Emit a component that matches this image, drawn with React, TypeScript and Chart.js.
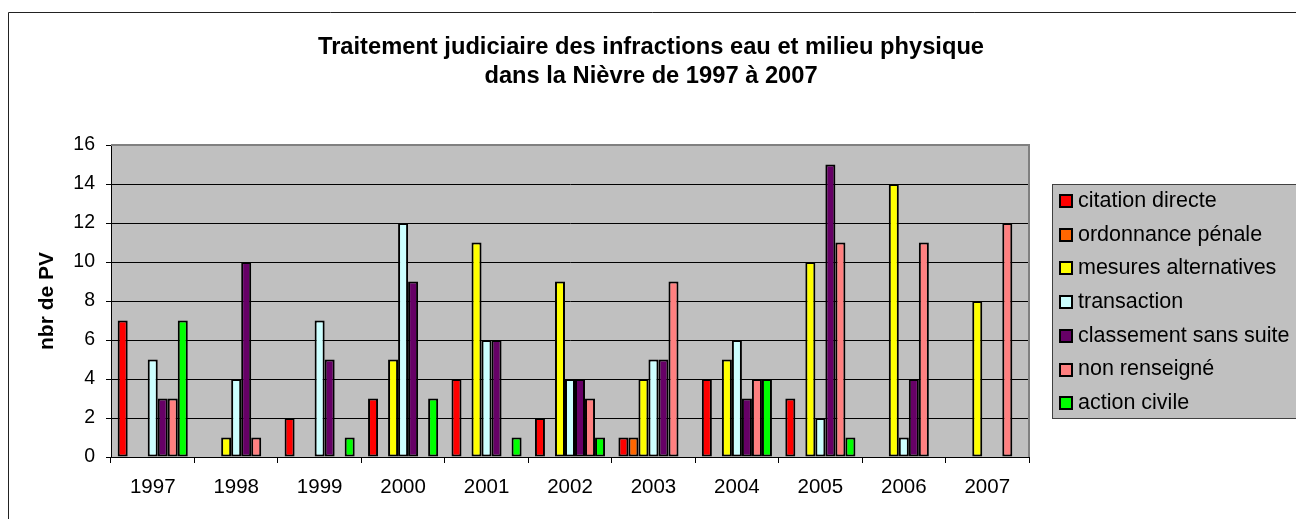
import React, { useEffect, useRef } from "react";
import { Chart, registerables } from "chart.js";

Chart.register(...registerables);

const years = ["1997", "1998", "1999", "2000", "2001", "2002", "2003", "2004", "2005", "2006", "2007"];
const seriesNames = [
  "citation directe",
  "ordonnance pénale",
  "mesures alternatives",
  "transaction",
  "classement sans suite",
  "non renseigné",
  "action civile",
];
const seriesColors = ["#FF0000", "#FF6600", "#FFFF00", "#CCFFFF", "#660066", "#FF8080", "#00FF00"];

const citationDirecte = [7, 0, 2, 3, 4, 2, 1, 4, 3, 0, 0];
const ordonnancePenale = [0, 0, 0, 0, 0, 0, 1, 0, 0, 0, 0];
const mesuresAlternatives = [0, 1, 0, 5, 11, 9, 4, 5, 10, 14, 8];
const transaction = [5, 4, 7, 12, 6, 4, 5, 6, 2, 1, 0];
const classementSansSuite = [3, 10, 5, 9, 6, 4, 5, 3, 15, 4, 0];
const nonRenseigne = [3, 1, 0, 0, 0, 3, 9, 4, 11, 11, 12];
const actionCivile = [7, 0, 1, 3, 1, 1, 0, 4, 1, 0, 0];

const yTicks = [0, 2, 4, 6, 8, 10, 12, 14, 16];
const titleLines = ["Traitement judiciaire des infractions eau et milieu physique", "dans la Nièvre de 1997 à 2007"];
const yAxisTitle = "nbr de PV";

const FONT = "'Liberation Sans', Arial, sans-serif";

export default function App() {
  const ref = useRef<HTMLCanvasElement | null>(null);

  useEffect(() => {
    const canvas = ref.current;
    if (!canvas) return;
    const allSeries = [
      citationDirecte,
      ordonnancePenale,
      mesuresAlternatives,
      transaction,
      classementSansSuite,
      nonRenseigne,
      actionCivile,
    ];

    const decorPlugin = {
      id: "decor",
      beforeDraw(chart: any) {
        const { ctx, chartArea } = chart;
        ctx.save();
        ctx.fillStyle = "#FFFFFF";
        ctx.fillRect(0, 0, chart.width, chart.height);
        // outer frame
        ctx.strokeStyle = "#222222";
        ctx.lineWidth = 1;
        ctx.beginPath();
        ctx.moveTo(8.5, chart.height + 2);
        ctx.lineTo(8.5, 12.5);
        ctx.lineTo(chart.width + 2, 12.5);
        ctx.stroke();
        // plot background
        ctx.fillStyle = "#C0C0C0";
        ctx.fillRect(chartArea.left, chartArea.top, chartArea.right - chartArea.left, chartArea.bottom - chartArea.top);
        ctx.restore();
      },
      beforeDatasetsDraw(chart: any) {
        const { ctx, chartArea } = chart;
        ctx.save();
        ctx.strokeStyle = "#808080";
        ctx.lineWidth = 2;
        ctx.beginPath();
        ctx.moveTo(chartArea.left, chartArea.top);
        ctx.lineTo(chartArea.right, chartArea.top);
        ctx.lineTo(chartArea.right, chartArea.bottom);
        ctx.stroke();
        ctx.restore();
      },
      afterDraw(chart: any) {
        const { ctx } = chart;
        ctx.save();
        // title
        ctx.fillStyle = "#000000";
        ctx.font = `bold 23.7px ${FONT}`;
        ctx.textAlign = "center";
        ctx.textBaseline = "middle";
        ctx.fillText(titleLines[0], 651, 47);
        ctx.fillText(titleLines[1], 651, 76);
        // legend
        const lx = 1052.5;
        const ly = 184.5;
        ctx.fillStyle = "#C0C0C0";
        ctx.fillRect(lx, ly, 300, 234);
        ctx.strokeStyle = "#404040";
        ctx.lineWidth = 1;
        ctx.strokeRect(lx, ly, 300, 234);
        ctx.font = `21.5px ${FONT}`;
        ctx.textAlign = "left";
        ctx.textBaseline = "middle";
        chart.data.datasets.forEach((ds: any, i: number) => {
          const cy = 201 + i * 33.7;
          ctx.fillStyle = "#000000";
          ctx.fillRect(1059, Math.round(cy) - 7, 14, 14);
          ctx.fillStyle = ds.backgroundColor;
          ctx.fillRect(1061, Math.round(cy) - 5, 10, 10);
          ctx.fillStyle = "#000000";
          ctx.fillText(ds.label, 1078, cy);
        });
        ctx.restore();
      },
    };

    const chart = new Chart(canvas, {
      type: "bar",
      data: {
        labels: years,
        datasets: allSeries.map((vals, i) => ({
          label: seriesNames[i],
          data: vals.map((v) => (v === 0 ? null : v)),
          backgroundColor: seriesColors[i],
          borderColor: "#000000",
          borderWidth: 2,
          borderSkipped: false,
          categoryPercentage: 0.84,
          barPercentage: 1.0,
        })),
      },
      options: {
        responsive: false,
        animation: false,
        devicePixelRatio: 1,
        layout: { padding: { left: 8, top: 145, right: 267, bottom: 0 } },
        plugins: {
          legend: { display: false },
          title: { display: false },
          tooltip: { enabled: false },
        },
        scales: {
          x: {
            afterFit: (scale: any) => {
              scale.height = 62;
            },
            grid: {
              display: true,
              drawOnChartArea: false,
              drawTicks: true,
              tickLength: 6,
              color: "#000000",
              offset: true,
            },
            border: { display: true, color: "#000000", width: 1 },
            ticks: {
              color: "#000000",
              font: { family: FONT, size: 20.5 },
              padding: 12,
              maxRotation: 0,
              autoSkip: false,
            },
          },
          y: {
            min: 0,
            max: 16,
            afterFit: (scale: any) => {
              scale.width = 103;
            },
            afterBuildTicks: (scale: any) => {
              scale.ticks = yTicks.map((v) => ({ value: v }));
            },
            grid: {
              color: "#000000",
              lineWidth: 1,
              drawTicks: true,
              tickLength: 5,
            },
            border: { display: true, color: "#000000", width: 1 },
            ticks: {
              color: "#000000",
              font: { family: FONT, size: 19.5 },
              padding: 11,
            },
            title: {
              display: true,
              text: yAxisTitle,
              color: "#000000",
              font: { family: FONT, size: 21, weight: "bold" },
              padding: { top: 27, bottom: 0 },
            },
          },
        },
      },
      plugins: [decorPlugin],
    } as any);

    return () => {
      chart.destroy();
    };
  }, []);

  return (
    <div style={{ position: "fixed", left: 0, top: 0, width: 1296, height: 519, overflow: "hidden", background: "#fff" }}>
      <canvas ref={ref} width={1296} height={519} style={{ display: "block", width: 1296, height: 519 }} />
    </div>
  );
}
